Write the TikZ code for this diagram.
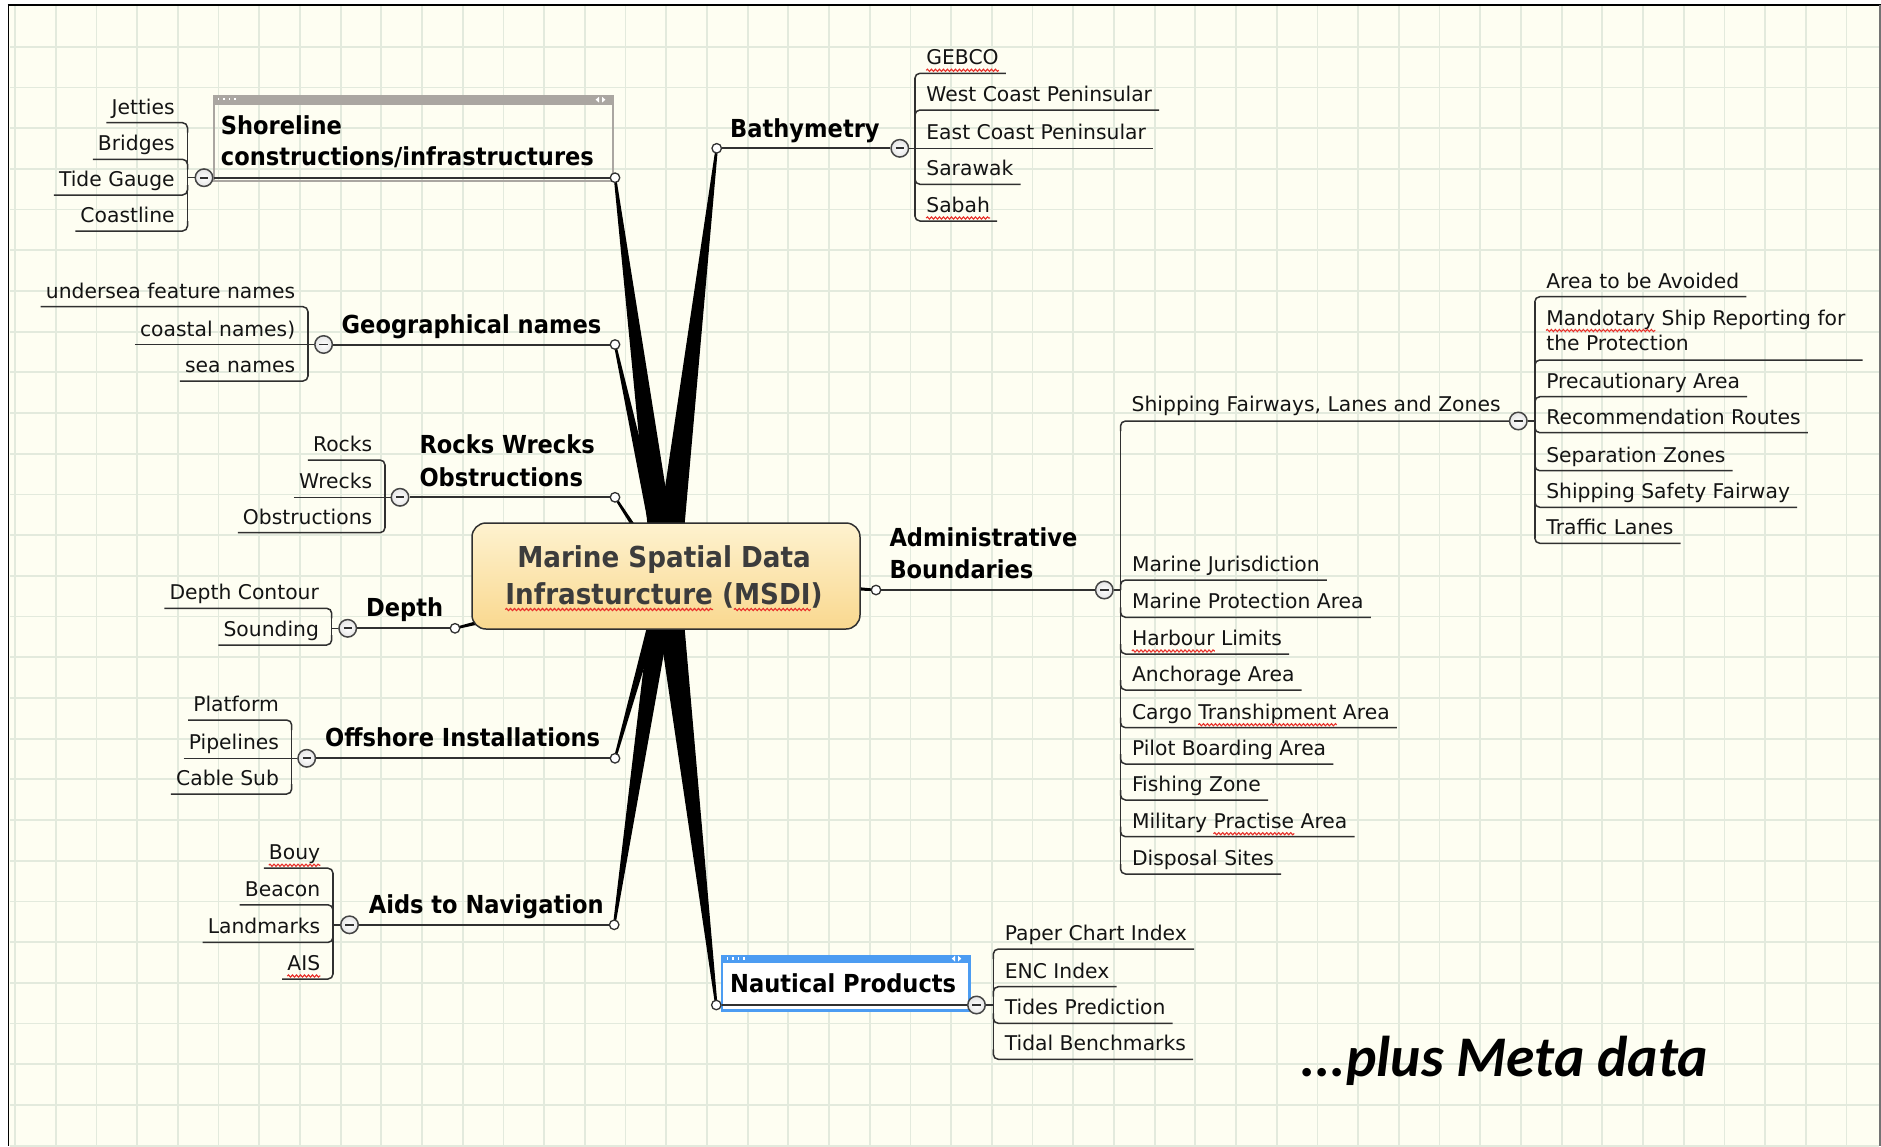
\documentclass[tikz,border=0pt]{standalone}
\usepackage{fontspec}
\setmainfont{DejaVu Sans}
\newfontfamily\labfont[FakeStretch=0.91]{DejaVu Sans}
\newfontfamily\metafont{Carlito}
\usetikzlibrary{calc,decorations.pathmorphing}
\definecolor{bgc}{HTML}{FEFEF2}
\definecolor{gridc}{HTML}{E3EADD}
\definecolor{ink}{HTML}{303030}
\definecolor{txt}{HTML}{141414}
\definecolor{ctxt}{HTML}{3C3C3C}
\definecolor{shgray}{HTML}{AAA6A1}
\definecolor{nblue}{HTML}{4C9CF2}
\definecolor{ctop}{HTML}{FEF2CF}
\definecolor{cbot}{HTML}{F9D88F}
\definecolor{sqred}{HTML}{E8302A}
\newcommand\kidfont{\fontsize{20.3}{24}\selectfont}
\newcommand\ctfont{\labfont\bfseries\fontsize{28.8}{34}\selectfont}
% squiggle under a word: style, base node, prefix+word, word, id (helper nodes hold phantoms only)
\newcommand\squig[5]{%
  \node[#1,anchor=base west] (#5a) at (#2.base west) {\phantom{#3}};
  \node[#1,anchor=base east] (#5b) at (#5a.base east) {\phantom{#4}};
  \draw[squigl] ([yshift=-5.5pt]#5b.base west) -- ([yshift=-5.5pt]#5b.base east);}
% left child: name, spine x, underline y, leg, text
\newcommand\lkid[5]{\node[kid,anchor=base east] (#1) at ({#2-12.6},{#3-8.5}) {#5};
  \draw[uline,rounded corners=5pt] ([xshift=-5pt,yshift=-8.5pt]#1.base west) -- (#2,#3) -- (#2,{#3+#4});}
\newcommand\lkidl[4]{\node[kid,anchor=base east] (#1) at ({#2-12.6},{#3-8.5}) {#4};
  \draw[uline] ([xshift=-5pt,yshift=-8.5pt]#1.base west) -- (#2,#3);}
% right child
\newcommand\rkid[5]{\node[kid,anchor=base west] (#1) at ({#2+11.3},{#3-8.5}) {#5};
  \draw[uline,rounded corners=5pt] (#2,{#3+#4}) -- (#2,#3) -- ([xshift=7pt,yshift=-8.5pt]#1.base east);}
\newcommand\rkidl[4]{\node[kid,anchor=base west] (#1) at ({#2+11.3},{#3-8.5}) {#4};
  \draw[uline] (#2,#3) -- ([xshift=7pt,yshift=-8.5pt]#1.base east);}
\newcommand\spokeW[2]{\fill[spoke] ($(C)!#2!90:(#1)$) -- ($(#1)!1.2pt!-90:(C)$) -- ($(#1)!1.2pt!90:(C)$) -- ($(C)!#2!-90:(#1)$) -- cycle;}
\begin{document}
\begin{tikzpicture}[x=1pt,y=-1pt,
  kid/.style={inner sep=0pt, font=\kidfont, text=txt},
  lab/.style={inner sep=0pt, font=\labfont\bfseries\fontsize{24.8}{30}\selectfont, text=black},
  ctext/.style={inner sep=0pt, font=\ctfont, text=ctxt},
  uline/.style={draw=ink, line width=1.5pt},
  spine/.style={draw=ink, line width=1.5pt},
  tline/.style={draw=ink, line width=2pt},
  squigl/.style={draw=sqred, line width=1.1pt, decorate, decoration={snake, amplitude=1.1pt, segment length=4pt}},
  dotc/.style={circle, draw=ink, fill=white, line width=1.3pt, minimum size=9.5pt, inner sep=0pt},
  minusc/.style={circle, draw=ink!90, line width=1.5pt, inner color=white, outer color=black!10, minimum size=17.5pt, inner sep=0pt,
    path picture={\draw[ink, line width=1.8pt] ([xshift=-4.2pt]path picture bounding box.center) -- ([xshift=4.2pt]path picture bounding box.center);}},
  spoke/.style={fill=black},
  gridline/.style={draw=gridc, line width=1.8pt},
  meta/.style={inner sep=0pt, font=\metafont\bfseries\itshape\fontsize{57.5}{62}\selectfont, text=black}
]
\useasboundingbox (0,0) rectangle (1881,1146);
\fill[white] (0,0) rectangle (1881,1146);
\fill[bgc] (8.5,4.5) rectangle (1880,1146);
\foreach \k in {0,...,45} \draw[gridline] ({15+40.7*\k},5.5) -- ({15+40.7*\k},1146);
\foreach \k in {1,...,28} \draw[gridline] (9.5,{6+40.7*\k}) -- (1879,{6+40.7*\k});
\draw[black,line width=2pt] (7.5,4.5) -- (1881,4.5);
\draw[black,line width=1.6pt] (8.5,4.5) -- (8.5,1146);
\draw[black!55,line width=1.6pt] (1880,4.5) -- (1880,1146);

% spoke anchors
\coordinate (C) at (666,576);
\coordinate (pSh) at (615,177.7);
\coordinate (pGe) at (615,344.5);
\coordinate (pRo) at (615,497.3);
\coordinate (pDe) at (455,628.3);
\coordinate (pOf) at (615,758.3);
\coordinate (pAi) at (614.2,924.8);
\coordinate (pNa) at (716.3,1005);
\coordinate (pBa) at (716.7,148.3);
\coordinate (pAd) at (876,590);
\spokeW{pSh}{13.5pt}
\spokeW{pGe}{7.7pt}
\spokeW{pRo}{3pt}
\spokeW{pDe}{7pt}
\spokeW{pOf}{6pt}
\spokeW{pAi}{11.5pt}
\spokeW{pNa}{14pt}
\spokeW{pBa}{14pt}
\spokeW{pAd}{6.8pt}

% central topic
\node[draw=ink, line width=1.5pt, rounded corners=14pt, top color=ctop, bottom color=cbot,
  minimum width=388pt, minimum height=106pt, inner sep=0pt] (msdi) at (666,576) {};
\node[ctext,anchor=base] (msdi1) at (664,567) {Marine Spatial Data};
\node[ctext,anchor=base] (msdi2) at (664,604) {Infrasturcture (MSDI)};
\squig{ctext}{msdi2}{Infrasturcture}{Infrasturcture}{sqA}
\squig{ctext}{msdi2}{Infrasturcture (MSDI}{MSDI}{sqB}

% Shoreline box
\node[draw=shgray, line width=2.4pt, minimum width=399pt, minimum height=85pt, inner sep=0pt, anchor=north west] (shbox) at (212.7,95) {};
\fill[shgray] (212.7,95) rectangle (611.7,104.5);
\foreach \d in {0,1,2,3} \fill[white] ({217.5+5.5*\d},97.5) rectangle ++(1.8,2.8);
\fill[white] (599,96.8) -- (595.6,99.7) -- (599,102.6) -- cycle;
\fill[white] (602,96.8) -- (605.4,99.7) -- (602,102.6) -- cycle;

% Nautical box
\node[draw=nblue, fill=white, line width=2.4pt, minimum width=247.5pt, minimum height=54.8pt, inner sep=0pt, anchor=north west] (naubox) at (720.7,954.5) {};
\fill[nblue] (720.7,954.5) rectangle (968.2,962.7);
\foreach \d in {0,1,2,3} \fill[white] ({726.5+5.5*\d},957) rectangle ++(1.8,2.6);
\fill[white] (955,955.6) -- (951.8,958.6) -- (955,961.6) -- cycle;
\fill[white] (958,955.6) -- (961.2,958.6) -- (958,961.6) -- cycle;

% connection dots and collapse buttons
\node[dotc] (shd) at (pSh) {};
\node[dotc] (ged) at (pGe) {};
\node[dotc] (rod) at (pRo) {};
\node[dotc] (ded) at (pDe) {};
\node[dotc] (ofd) at (pOf) {};
\node[dotc] (aid) at (pAi) {};
\node[dotc] (nad) at (pNa) {};
\node[dotc] (bad) at (pBa) {};
\node[dotc] (add) at (pAd) {};
\node[minusc] (shm) at (204,177.7) {};
\node[minusc] (gem) at (323.6,344.5) {};
\node[minusc] (rom) at (400,497.3) {};
\node[minusc] (dem) at (347.7,628.3) {};
\node[minusc] (ofm) at (306.7,758.3) {};
\node[minusc] (aim) at (349.5,924.8) {};
\node[minusc] (nam) at (976.5,1005) {};
\node[minusc] (bam) at (899.8,148.3) {};
\node[minusc] (adm) at (1104.3,590) {};
\node[minusc] (shpm) at (1518.3,421) {};

% main topic lines
\draw[tline] (shd) -- (shm);
\draw[tline] (ged) -- (gem);
\draw[tline] (rod) -- (rom);
\draw[tline] (ded) -- (dem);
\draw[tline] (ofd) -- (ofm);
\draw[tline] (aid) -- (aim);
\draw[tline] (nad) -- (nam);
\draw[tline] (bad) -- (bam);
\draw[tline] (add) -- (adm);

% main topic labels
\node[lab,anchor=base west] (lsh1) at (220.7,134) {Shoreline};
\node[lab,anchor=base west] (lsh2) at (220.7,165) {constructions/infrastructures};
\node[lab,anchor=base west] (lgeo) at (341.5,333.3) {Geographical names};
\node[lab,anchor=base west] (lrock1) at (419.3,453.3) {Rocks Wrecks};
\node[lab,anchor=base west] (lrock2) at (419.3,486) {Obstructions};
\node[lab,anchor=base west] (ldep) at (366,616.7) {Depth};
\node[lab,anchor=base west] (loff) at (325,746.7) {Offshore Installations};
\node[lab,anchor=base west] (laid) at (368.6,913) {Aids to Navigation};
\node[lab,anchor=base west] (lnau) at (730,992.7) {Nautical Products};
\node[lab,anchor=base west] (lbath) at (730,137.3) {Bathymetry};
\node[lab,anchor=base west] (ladm1) at (889.3,546.7) {Administrative};
\node[lab,anchor=base west] (ladm2) at (889.3,578.3) {Boundaries};

% Shoreline children
\lkid{jet}{187.5}{122.7}{10}{Jetties}
\lkid{bri}{187.5}{159.3}{10}{Bridges}
\lkid{tid}{187.5}{195}{-10}{Tide Gauge}
\lkid{coa}{187.5}{231}{-10}{Coastline}
\draw[spine] (187.5,127.7) -- (187.5,226);
\draw[uline] (shm.west) -- (187.5,177.7);

% Geographical names children
\lkid{und}{308}{306.7}{10}{undersea feature names}
\lkidl{cst}{308}{344.5}{coastal names)}
\lkid{sea}{308}{381}{-10}{sea names}
\draw[spine] (308,311.7) -- (308,376);
\draw[uline] (gem.west) -- (308,344.5);

% Rocks children
\lkid{roc}{385}{460}{10}{Rocks}
\lkidl{wre}{385}{497.3}{Wrecks}
\lkid{obs}{385}{532.7}{-10}{Obstructions}
\draw[spine] (385,465) -- (385,527.7);
\draw[uline] (rom.west) -- (385,497.3);

% Depth children
\lkid{dco}{331.7}{608.3}{10}{Depth Contour}
\lkid{sou}{331.7}{645}{-10}{Sounding}
\draw[spine] (331.7,613.3) -- (331.7,640);
\draw[uline] (dem.west) -- (331.7,628.3);

% Offshore children
\lkid{pla}{291.7}{720}{10}{Platform}
\lkidl{pip}{291.7}{758.3}{Pipelines}
\lkid{cab}{291.7}{794}{-10}{Cable Sub}
\draw[spine] (291.7,725) -- (291.7,789);
\draw[uline] (ofm.west) -- (291.7,758.3);

% Aids children
\lkid{bou}{333}{868.2}{10}{Bouy}
\lkid{bea}{333}{904.8}{10}{Beacon}
\lkid{lan}{333}{942.4}{-10}{Landmarks}
\lkid{ais}{333}{979}{-10}{AIS}
\draw[spine] (333,873.2) -- (333,974);
\draw[uline] (aim.west) -- (333,924.8);
\squig{kid}{bou}{Bouy}{Bouy}{sqC}
\squig{kid}{ais}{AIS}{AIS}{sqD}

% Bathymetry children
\rkid{geb}{914.9}{73.3}{10}{GEBCO}
\rkid{wcp}{914.9}{110}{10}{West Coast Peninsular}
\rkidl{ecp}{914.9}{148.3}{East Coast Peninsular}
\rkid{sar}{914.9}{184.3}{-10}{Sarawak}
\rkid{sab}{914.9}{221}{-10}{Sabah}
\draw[spine] (914.9,78.3) -- (914.9,216);
\draw[uline] (bam.east) -- (914.9,148.3);
\squig{kid}{geb}{GEBCO}{GEBCO}{sqE}
\squig{kid}{sab}{Sabah}{Sabah}{sqF}

% Administrative Boundaries children
\node[kid,anchor=base west] (shp) at (1131.5,411.7) {Shipping Fairways, Lanes and Zones};
\draw[uline,rounded corners=5pt] (1120.5,431) -- (1120.5,421) -- (shpm.west);
\rkid{mju}{1120.5}{580}{10}{Marine Jurisdiction}
\rkid{mpa}{1120.5}{617.3}{-10}{Marine Protection Area}
\rkid{hli}{1120.5}{654}{-10}{Harbour Limits}
\rkid{anc}{1120.5}{690}{-10}{Anchorage Area}
\rkid{cta}{1120.5}{727.7}{-10}{Cargo Transhipment Area}
\rkid{pba}{1120.5}{764}{-10}{Pilot Boarding Area}
\rkid{fzo}{1120.5}{800}{-10}{Fishing Zone}
\rkid{mpr}{1120.5}{836.7}{-10}{Military Practise Area}
\rkid{dis}{1120.5}{874}{-10}{Disposal Sites}
\draw[spine] (1120.5,426) -- (1120.5,869);
\draw[uline] (adm.east) -- (1120.5,590);
\squig{kid}{hli}{Harbour}{Harbour}{sqG}
\squig{kid}{cta}{Cargo Transhipment}{Transhipment}{sqH}
\squig{kid}{mpr}{Military Practise}{Practise}{sqI}

% Shipping children
\rkid{atb}{1534.8}{296.7}{10}{Area to be Avoided}
\node[kid,anchor=base west] (man1) at (1546.1,325) {Mandotary Ship Reporting for};
\node[kid,anchor=base west] (man2) at (1546.1,350) {the Protection};
\draw[uline,rounded corners=5pt] (1534.8,370) -- (1534.8,360) -- ([xshift=17pt,yshift=-35pt]man1.base east);
\squig{kid}{man1}{Mandotary}{Mandotary}{sqJ}
\rkid{pre}{1534.8}{396.7}{10}{Precautionary Area}
\rkid{rec}{1534.8}{432.7}{-10}{Recommendation Routes}
\rkid{sep}{1534.8}{470.7}{-10}{Separation Zones}
\rkid{ssf}{1534.8}{507.3}{-10}{Shipping Safety Fairway}
\rkid{tra}{1534.8}{543.3}{-10}{Traffic Lanes}
\draw[spine] (1534.8,301.7) -- (1534.8,538.3);
\draw[uline] (shpm.east) -- (1534.8,421);

% Nautical children
\rkid{pci}{993.3}{949}{10}{Paper Chart Index}
\rkid{enc}{993.3}{986.7}{10}{ENC Index}
\rkid{tpr}{993.3}{1023.3}{-10}{Tides Prediction}
\rkid{tbe}{993.3}{1059.3}{-10}{Tidal Benchmarks}
\draw[spine] (993.3,954) -- (993.3,1054.3);
\draw[uline] (nam.east) -- (993.3,1005);

\node[meta,anchor=base west] (meta) at (1300,1076.7) {...plus Meta data};
\end{tikzpicture}
\end{document}
